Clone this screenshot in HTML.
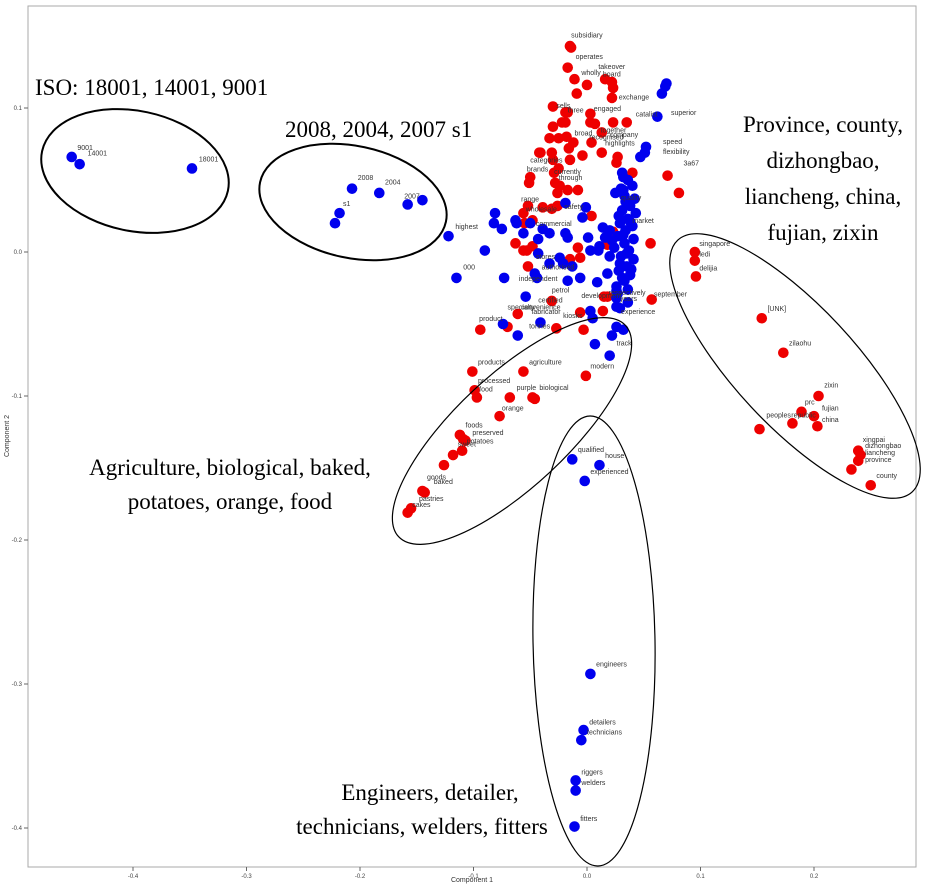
<!DOCTYPE html>
<html><head><meta charset="utf-8"><style>
html,body{margin:0;padding:0;background:#fff;}
svg{display:block;font-family:"Liberation Sans",sans-serif;}
.ann{font-family:"Liberation Serif",serif;font-size:23px;fill:#000;}
</style></head><body>
<svg id="chart" width="925" height="887" viewBox="0 0 925 887" xmlns="http://www.w3.org/2000/svg">
<rect x="28" y="6" width="888" height="861" fill="#fff" stroke="#aaa" stroke-width="1"/>
<g id="ticks"></g>
<g id="points"></g>
<g id="labels"></g>
<g fill="none" stroke="#000">
<ellipse cx="135" cy="171" rx="95" ry="60" transform="rotate(12 135 171)" stroke-width="2"/>
<ellipse cx="353" cy="202" rx="95" ry="56" transform="rotate(12 353 202)" stroke-width="2"/>
<ellipse cx="795" cy="366" rx="172" ry="60" transform="rotate(47 795 366)" stroke-width="1.2"/>
<ellipse cx="512" cy="431" rx="155" ry="56" transform="rotate(-43 512 431)" stroke-width="1.2"/>
<ellipse cx="594" cy="641" rx="61" ry="225" transform="rotate(-1 594 641)" stroke-width="1.2"/>
</g>
<g>
<text class="ann" x="35" y="95">ISO: 18001, 14001, 9001</text>
<text class="ann" x="285" y="137">2008, 2004, 2007 s1</text>
<text class="ann" text-anchor="middle"><tspan x="823" y="132">Province, county,</tspan><tspan x="823" y="168">dizhongbao,</tspan><tspan x="823" y="204">liancheng, china,</tspan><tspan x="823" y="240">fujian, zixin</tspan></text>
<text class="ann" text-anchor="middle"><tspan x="230" y="475">Agriculture, biological, baked,</tspan><tspan x="230" y="509">potatoes, orange, food</tspan></text>
<text class="ann" text-anchor="middle"><tspan x="430" y="800">Engineers, detailer,</tspan><tspan x="422" y="834">technicians, welders, fitters</tspan></text>
</g>
<text x="472" y="882" font-size="7" fill="#333" text-anchor="middle">Component 1</text>
<text x="9" y="436" font-size="7" fill="#333" text-anchor="middle" transform="rotate(-90 9 436)">Component 2</text>
</svg>
<script>
const xTicks=[-0.4,-0.3,-0.2,-0.1,0.0,0.1,0.2];
const yTicks=[0.1,0.0,-0.1,-0.2,-0.3,-0.4];
const redX=[-0.015,-0.014,-0.017,-0.011,0.000,0.016,0.022,0.023,0.022,-0.009,-0.030,-0.019,-0.017,0.003,-0.022,-0.019,0.003,0.007,0.023,0.035,-0.030,0.013,-0.033,-0.025,-0.018,-0.012,0.004,-0.041,-0.042,-0.031,-0.030,-0.016,-0.015,-0.004,0.013,0.027,0.026,-0.025,-0.029,-0.050,-0.051,-0.028,-0.024,-0.017,-0.008,-0.026,0.040,0.071,0.081,-0.052,-0.039,-0.031,-0.026,-0.056,-0.048,-0.055,0.004,-0.063,-0.056,-0.053,-0.048,-0.008,-0.006,0.018,0.023,0.056,-0.052,-0.015,0.015,0.018,-0.031,-0.006,0.014,-0.061,-0.070,-0.094,-0.027,-0.003,
0.095,0.095,0.096,0.057,0.154,0.173,0.204,0.189,0.200,0.203,0.181,0.152,0.239,0.241,0.239,0.233,0.250,
-0.101,-0.056,-0.001,-0.099,-0.097,-0.068,-0.048,-0.046,-0.077,-0.112,-0.109,-0.107,-0.110,-0.118,-0.126,-0.145,-0.143,-0.155,-0.158];
const redY=[0.143,0.142,0.128,0.120,0.116,0.120,0.118,0.114,0.107,0.110,0.101,0.097,0.097,0.096,0.090,0.090,0.090,0.089,0.090,0.090,0.087,0.083,0.079,0.079,0.080,0.076,0.076,0.069,0.069,0.069,0.064,0.072,0.064,0.067,0.069,0.066,0.062,0.058,0.055,0.052,0.048,0.048,0.046,0.043,0.043,0.041,0.055,0.053,0.041,0.032,0.031,0.030,0.032,0.027,0.022,0.020,0.025,0.006,0.001,0.001,0.004,0.003,-0.004,0.005,0.014,0.006,-0.010,-0.005,-0.031,-0.031,-0.034,-0.042,-0.041,-0.043,-0.052,-0.054,-0.053,-0.054,
0.000,-0.006,-0.017,-0.033,-0.046,-0.070,-0.100,-0.111,-0.114,-0.121,-0.119,-0.123,-0.138,-0.141,-0.145,-0.151,-0.162,
-0.083,-0.083,-0.086,-0.096,-0.101,-0.101,-0.101,-0.102,-0.114,-0.127,-0.130,-0.131,-0.138,-0.141,-0.148,-0.166,-0.167,-0.178,-0.181];
const blueX=[-0.454,-0.447,-0.348,-0.207,-0.183,-0.158,-0.145,-0.218,-0.222,-0.122,-0.115,
0.070,0.069,0.066,0.062,0.052,0.051,0.047,0.031,0.032,0.025,0.032,0.036,0.040,0.033,0.042,0.038,0.031,0.043,0.036,0.029,0.040,0.034,0.027,0.041,0.033,0.037,0.030,0.041,0.035,0.028,0.038,0.033,0.026,0.036,0.020,0.022,0.016,0.011,
-0.081,-0.082,-0.075,-0.063,-0.062,-0.050,-0.039,-0.033,-0.056,-0.043,-0.090,-0.019,-0.001,-0.004,-0.019,-0.017,0.001,0.014,0.010,0.003,-0.043,-0.024,-0.021,-0.033,-0.013,0.020,-0.046,-0.044,-0.073,-0.017,-0.006,0.009,0.018,0.026,0.026,0.026,-0.054,0.003,0.005,0.029,0.026,0.032,-0.041,-0.074,-0.061,0.022,0.007,0.020,
0.030,0.034,0.028,0.038,0.032,0.024,0.035,0.029,0.039,0.031,0.027,0.036,
-0.013,0.011,-0.002,0.003,-0.003,-0.005,-0.010,-0.010,-0.011];
const blueY=[0.066,0.061,0.058,0.044,0.041,0.033,0.036,0.027,0.020,0.011,-0.018,
0.117,0.115,0.110,0.094,0.073,0.069,0.066,0.055,0.052,0.041,0.043,0.050,0.046,0.039,0.037,0.032,0.029,0.027,0.023,0.020,0.018,0.015,0.011,0.009,0.006,0.001,-0.003,-0.005,-0.010,-0.013,-0.016,-0.020,-0.024,-0.026,0.015,0.008,0.010,0.004,
0.027,0.020,0.016,0.022,0.020,0.020,0.016,0.013,0.013,0.009,0.001,0.034,0.031,0.024,0.013,0.010,0.010,0.017,0.001,0.001,-0.001,-0.004,-0.008,-0.008,-0.010,-0.003,-0.015,-0.018,-0.018,-0.020,-0.018,-0.021,-0.015,-0.027,-0.032,-0.038,-0.031,-0.041,-0.046,-0.039,-0.052,-0.054,-0.049,-0.050,-0.058,-0.058,-0.064,-0.072,
0.044,0.035,0.025,0.021,0.012,0.003,-0.001,-0.008,-0.012,-0.018,-0.029,-0.035,
-0.144,-0.148,-0.159,-0.293,-0.332,-0.339,-0.367,-0.374,-0.399];
const labelText=["9001","14001","18001","2008","2004","2007","s1","highest","000","subsidiary","operates","wholly","takeover","board","exchange","sells","three","engaged","catalist","superior","speed","flexibility","3a67","broad","recognised","together","highlights","company","categories","brands","currently","through","range","wholesale","safety","quality","commercial","market","stores","authorised","independent","certified","petrol","convenience","kiosks","product","specialty","tonnes","fabricator","development","years","respectively","september","experience","track","singapore","ledi","delijia","[UNK]","zilaohu","zixin","prc","fujian","republic","china","peoples","xingpai","dizhongbao","liancheng","province","county","products","agriculture","modern","processed","food","purple","biological","orange","foods","preserved","potatoes","sweet","goods","baked","pastries","cakes","qualified","house","experienced","engineers","detailers","technicians","riggers","welders","fitters"];
const labelX=[-0.449,-0.440,-0.342,-0.202,-0.178,-0.161,-0.215,-0.116,-0.109,-0.014,-0.010,-0.005,0.010,0.014,0.028,-0.027,-0.017,0.006,0.043,0.074,0.067,0.067,0.085,-0.011,0.002,0.012,0.016,0.020,-0.050,-0.053,-0.029,-0.025,-0.058,-0.054,-0.020,0.030,-0.045,0.040,-0.045,-0.040,-0.060,-0.043,-0.031,-0.058,-0.021,-0.095,-0.070,-0.051,-0.049,-0.005,0.029,0.019,0.059,0.030,0.026,0.099,0.099,0.099,0.159,0.178,0.209,0.192,0.207,0.180,0.207,0.158,0.243,0.245,0.245,0.245,0.255,
-0.096,-0.051,0.003,-0.096,-0.095,-0.062,-0.042,-0.075,-0.107,-0.101,-0.106,-0.114,-0.141,-0.135,-0.148,-0.154,-0.008,0.016,0.003,0.008,0.002,0.000,-0.005,-0.005,-0.006];
const labelY=[0.071,0.067,0.063,0.050,0.047,0.037,0.032,0.016,-0.012,0.149,0.134,0.123,0.127,0.122,0.106,0.100,0.097,0.098,0.094,0.095,0.075,0.068,0.060,0.081,0.078,0.083,0.074,0.080,0.062,0.056,0.054,0.050,0.035,0.028,0.030,0.036,0.018,0.020,-0.005,-0.012,-0.020,-0.035,-0.028,-0.040,-0.046,-0.048,-0.040,-0.053,-0.043,-0.032,-0.034,-0.030,-0.031,-0.043,-0.065,0.004,-0.003,-0.013,-0.041,-0.065,-0.094,-0.106,-0.110,-0.115,-0.118,-0.115,-0.132,-0.136,-0.141,-0.146,-0.157,
-0.078,-0.078,-0.081,-0.091,-0.097,-0.096,-0.096,-0.110,-0.122,-0.127,-0.133,-0.135,-0.158,-0.161,-0.173,-0.177,-0.139,-0.143,-0.154,-0.288,-0.328,-0.335,-0.363,-0.370,-0.395];
const sx=v=>587+v*1135;
const sy=v=>252-v*1440;
const NS="http://www.w3.org/2000/svg";
const tg=document.getElementById('ticks');
xTicks.forEach(t=>{
  const l=document.createElementNS(NS,'line');
  l.setAttribute('x1',sx(t));l.setAttribute('x2',sx(t));l.setAttribute('y1',867);l.setAttribute('y2',871);l.setAttribute('stroke','#666');
  
  
  tg.appendChild(l);
  const tx=document.createElementNS(NS,'text');
  tx.setAttribute('x',sx(t));tx.setAttribute('y',878);tx.setAttribute('font-size','6');tx.setAttribute('fill','#444');tx.setAttribute('text-anchor','middle');
  tx.textContent=t.toFixed(1);
  
  
  tg.appendChild(tx);
});
yTicks.forEach(t=>{
  const l=document.createElementNS(NS,'line');
  l.setAttribute('x1',24);l.setAttribute('x2',28);l.setAttribute('y1',sy(t));l.setAttribute('y2',sy(t));l.setAttribute('stroke','#666');
  
  
  tg.appendChild(l);
  const tx=document.createElementNS(NS,'text');
  tx.setAttribute('x',22);tx.setAttribute('y',sy(t)+2);tx.setAttribute('font-size','6');tx.setAttribute('fill','#444');tx.setAttribute('text-anchor','end');
  tx.textContent=t.toFixed(1);
  
  
  tg.appendChild(tx);
});
const pg=document.getElementById('points');
function dot(x,y,c,n){
  const e=document.createElementNS(NS,'circle');
  e.setAttribute('cx',sx(x));e.setAttribute('cy',sy(y));e.setAttribute('r',5.3);e.setAttribute('fill',c);
  
  
  pg.appendChild(e);
}
redX.forEach((x,i)=>dot(x,redY[i],'#ee0000','red-point'));
blueX.forEach((x,i)=>dot(x,blueY[i],'#0000ee','blue-point'));
const lg=document.getElementById('labels');
labelText.forEach((t,i)=>{
  const e=document.createElementNS(NS,'text');
  e.setAttribute('x',sx(labelX[i]));e.setAttribute('y',sy(labelY[i]));e.setAttribute('font-size','7');e.setAttribute('fill','#333');
  e.textContent=t;
  
  
  lg.appendChild(e);
});
</script>
</body></html>
